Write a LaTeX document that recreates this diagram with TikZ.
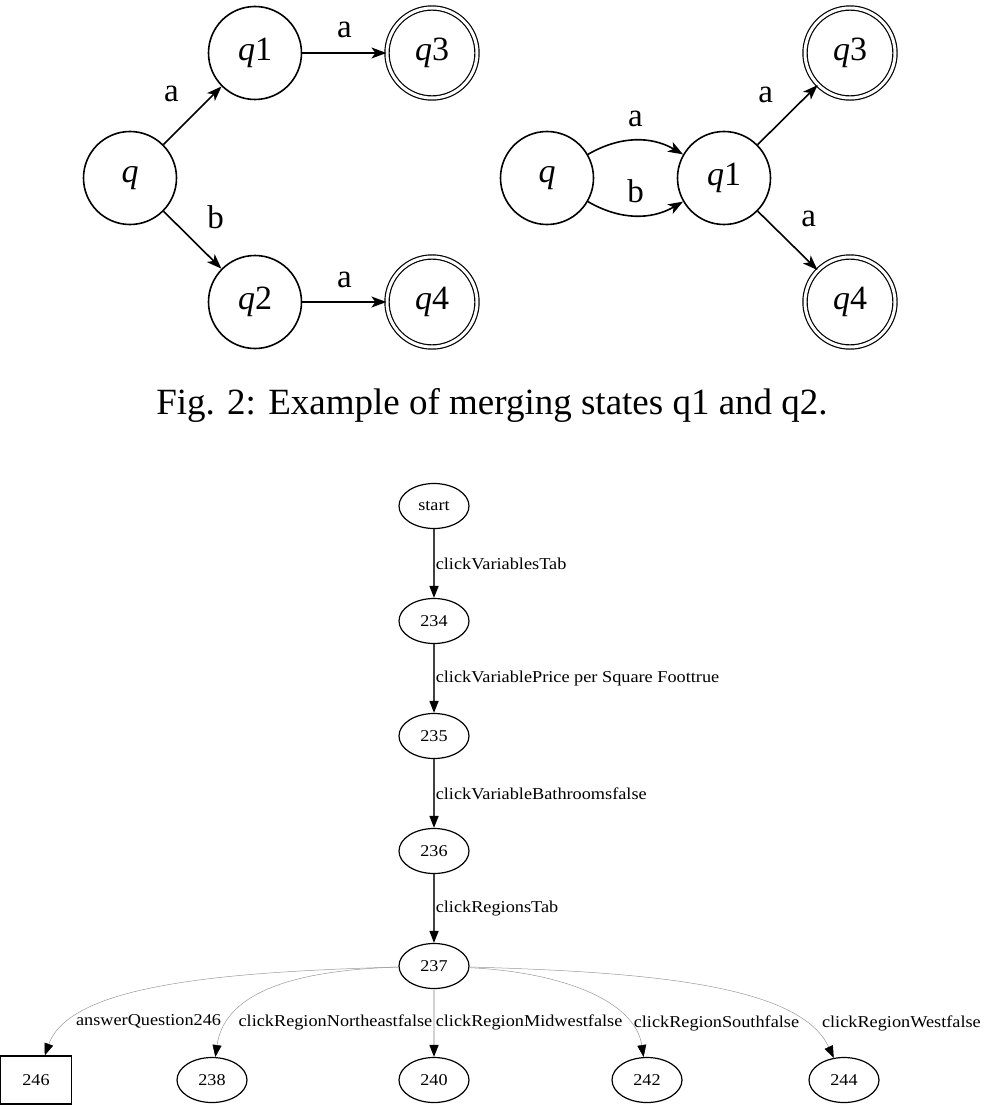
\documentclass[tikz,border=0pt]{standalone}
\usepackage{fontspec}
\setmainfont{Liberation Serif}
\newfontfamily\gvfont{Liberation Serif}[FakeStretch=1.1]
\usetikzlibrary{arrows.meta,shapes.geometric}

\begin{document}
\begin{tikzpicture}[x=1pt,y=1pt,
  state/.style={circle,draw,line width=1.6pt,minimum size=93pt,inner sep=0pt,
    font=\fontsize{34}{40}\selectfont},
  accept/.style={state,double,double distance=3pt,line width=1.2pt,minimum size=90pt},
  trans/.style={-{Stealth[length=15pt,width=11pt,inset=4pt]},line width=1.6pt},
  lbl/.style={font=\fontsize{33}{40}\selectfont,inner sep=0pt},
  gnode/.style={ellipse,draw,line width=1.2pt,minimum width=70pt,minimum height=45pt,
    inner sep=0pt,font=\gvfont\fontsize{16.5}{19}\selectfont},
  gbox/.style={rectangle,draw,line width=1.2pt,minimum width=71pt,minimum height=48pt,
    inner sep=0pt,font=\gvfont\fontsize{16.5}{19}\selectfont},
  gedge/.style={-{Triangle[length=12pt,width=9pt,color=black]},line width=1.6pt,draw=black!75},
  fedge/.style={-{Triangle[length=12pt,width=9pt,color=black]},line width=0.5pt,draw=black!40},
  glbl/.style={font=\gvfont\fontsize{16.6}{19}\selectfont,inner sep=0pt,anchor=west}
]
\useasboundingbox (0,0) rectangle (985,-1113);

% before merging
\node[state]  (q)   at (130,-178) {\textit{q}};
\node[state]  (q1)  at (255,-53)  {\textit{q}1};
\node[state]  (q2)  at (255,-302) {\textit{q}2};
\node[accept] (q3)  at (432,-53)  {\textit{q}3};
\node[accept] (q4)  at (432,-302) {\textit{q}4};

\draw[trans] (q)  -- (q1) node[lbl,midway,xshift=-21,yshift=22] {a};
\draw[trans] (q)  -- (q2) node[lbl,midway,xshift=23,yshift=23] {b};
\draw[trans] (q1) -- (q3) node[lbl,midway,yshift=23] {a};
\draw[trans] (q2) -- (q4) node[lbl,midway,yshift=22] {a};

% after merging
\node[state]  (mq)  at (547,-178) {\textit{q}};
\node[state]  (mq1) at (724,-178) {\textit{q}1};
\node[accept] (mq3) at (850,-53)  {\textit{q}3};
\node[accept] (mq4) at (850,-302) {\textit{q}4};

\draw[trans] (mq)  to[bend left=30]  node[lbl,midway,yshift=22] {a} (mq1);
\draw[trans] (mq)  to[bend right=30] node[lbl,midway,yshift=24] {b} (mq1);
\draw[trans] (mq1) -- (mq3) node[lbl,midway,xshift=-22,yshift=20] {a};
\draw[trans] (mq1) -- (mq4) node[lbl,midway,xshift=21,yshift=22] {a};

\node[font=\fontsize{37}{44}\selectfont] (caption) at (492,-405)
  {Fig. 2: Example of merging states q1 and q2.};

% learned model
\node[gnode] (start) at (434,-506)  {start};
\node[gnode] (n234)  at (434,-621)  {234};
\node[gnode] (n235)  at (434,-736)  {235};
\node[gnode] (n236)  at (434,-851)  {236};
\node[gnode] (n237)  at (434,-966)  {237};
\node[gbox]  (n246)  at (36,-1080)  {246};
\node[gnode] (n238)  at (212,-1080) {238};
\node[gnode] (n240)  at (434,-1080) {240};
\node[gnode] (n242)  at (647,-1080) {242};
\node[gnode] (n244)  at (844,-1080) {244};

\draw[gedge] (start) -- (n234) node[glbl,midway,xshift=1] {clickVariablesTab};
\draw[gedge] (n234) -- (n235) node[glbl,midway,xshift=1] {clickVariablePrice per Square Foottrue};
\draw[gedge] (n235) -- (n236) node[glbl,midway,xshift=1] {clickVariableBathroomsfalse};
\draw[gedge] (n236) -- (n237) node[glbl,midway,xshift=1] {clickRegionsTab};

\draw[fedge] (n237) .. controls (220,-972) and (70,-985) .. (n246)
  node[glbl,at end,xshift=31,yshift=34] {answerQuestion246};
\draw[fedge] (n237) .. controls (300,-970) and (225,-990) .. (n238)
  node[glbl,at end,xshift=23,yshift=35] {clickRegionNortheastfalse};
\draw[fedge,line width=1.6pt,draw=black!18] (n237) -- (n240)
  node[glbl,at end,xshift=1,yshift=34] {clickRegionMidwestfalse};
\draw[fedge] (n237) .. controls (560,-972) and (635,-1000) .. (n242)
  node[glbl,at end,xshift=-10,yshift=34] {clickRegionSouthfalse};
\draw[fedge] (n237) .. controls (650,-972) and (800,-985) .. (n244)
  node[glbl,at end,xshift=-12,yshift=34] {clickRegionWestfalse};
\end{tikzpicture}
\end{document}
